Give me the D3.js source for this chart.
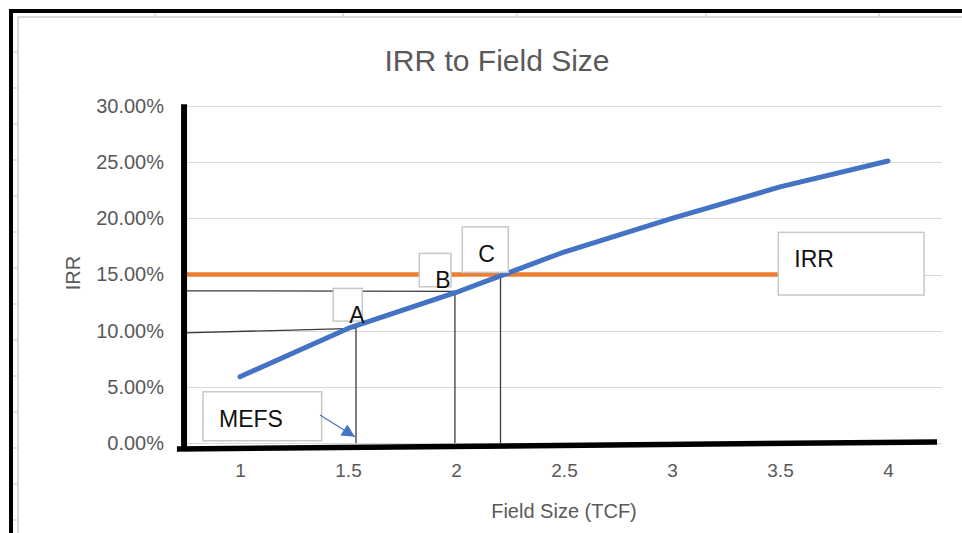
<!DOCTYPE html>
<html>
<head>
<meta charset="utf-8">
<script src="https://cdn.jsdelivr.net/npm/d3@7"></script>
<style>
  body { margin: 0; background: #fff; }
  svg { display: block; }
  text { font-family: "Liberation Sans", Arial, sans-serif; }
</style>
</head>
<body>
<svg id="chart" width="962" height="533"></svg>
<script>
// data
var fieldSizes = [1, 1.5, 2, 2.5, 3, 3.5, 4];          // TCF
var irrValues  = [5.9, 10.2, 13.4, 17.0, 20.0, 22.8, 25.1]; // %
var hurdleRate = 15;                                     // %
var yTicks     = [0, 5, 10, 15, 20, 25, 30];

// hand drawn markers (field size, irr %)
var dropPoints = [
  { name: 'A', x: 1.537, y: 10.2, left: 9.8 },
  { name: 'B', x: 1.995, y: 13.5, left: 13.55 },
  { name: 'C', x: 2.206, y: 14.8, left: null }
];
// text boxes, in data units
var labelBoxes = [
  { text: 'MEFS', x0: 0.829, x1: 1.378, y0: 4.56,  y1: 0.20 },
  { text: 'A',    x0: 1.432, x1: 1.566, y0: 13.76, y1: 10.85 },
  { text: 'B',    x0: 1.830, x1: 1.977, y0: 16.88, y1: 13.91 },
  { text: 'C',    x0: 2.029, x1: 2.242, y0: 19.24, y1: 15.19 },
  { text: 'IRR',  x0: 3.492, x1: 4.167, y0: 18.75, y1: 13.17 }
];
var arrowMefs = { x0: 1.370, y0: 2.49, x1: 1.532, y1: 0.55 };

var svg = d3.select('#chart');

// screenshot frame (sheet edge + cell grid)
var frame = svg.append('g').attr('class', 'frame');
frame.append('line').attr('x1', 18).attr('x2', 962).attr('y1', 17).attr('y2', 17)
     .attr('stroke', '#d9d9d9').attr('stroke-width', 2);
frame.append('line').attr('x1', 18).attr('x2', 18).attr('y1', 17).attr('y2', 533)
     .attr('stroke', '#d9d9d9').attr('stroke-width', 2);
[155, 343, 517, 706, 879].forEach(function(x) {
  frame.append('line').attr('x1', x).attr('x2', x).attr('y1', 13).attr('y2', 17)
       .attr('stroke', '#d9d9d9').attr('stroke-width', 1.5);
});
d3.range(52, 533, 36).forEach(function(y) {
  frame.append('line').attr('x1', 13).attr('x2', 18).attr('y1', y).attr('y2', y)
       .attr('stroke', '#d9d9d9').attr('stroke-width', 1.5);
});
frame.append('path').attr('d', 'M11,533 V11 H962')
     .attr('fill', 'none').attr('stroke', '#000').attr('stroke-width', 4);

// scales
var x = d3.scaleLinear().domain([0.75, 4.25]).range([186, 942]),
    y = d3.scaleLinear().domain([0, 30]).range([443, 106]);

// gridlines
svg.append('g').selectAll('line')
   .data(yTicks)
   .enter().append('line')
   .attr('x1', 183).attr('x2', x(4.25))
   .attr('y1', d => Math.round(y(d)) + 0.5).attr('y2', d => Math.round(y(d)) + 0.5)
   .attr('stroke', '#d9d9d9').attr('stroke-width', 1);

// axes (labels only)
var yAxis = svg.append('g')
   .attr('transform', 'translate(' + x(0.75) + ',0)')
   .call(d3.axisLeft(y).tickValues(yTicks).tickSize(0).tickPadding(22)
         .tickFormat(d => d.toFixed(2) + '%'));
yAxis.select('.domain').remove();
yAxis.selectAll('text').attr('font-size', 20).attr('fill', '#595959')
     .attr('font-family', '"Liberation Sans", Arial, sans-serif');

var xAxis = svg.append('g')
   .attr('transform', 'translate(0,' + y(0) + ')')
   .call(d3.axisBottom(x).tickValues(fieldSizes).tickSize(0).tickPadding(21)
         .tickFormat(d => d));
xAxis.select('.domain').remove();
xAxis.selectAll('text').attr('font-size', 19).attr('fill', '#595959')
     .attr('font-family', '"Liberation Sans", Arial, sans-serif');

// titles
svg.append('text').attr('x', 497).attr('y', 71).attr('text-anchor', 'middle')
   .attr('font-size', 30).attr('fill', '#595959').text('IRR to Field Size');
svg.append('text').attr('x', 564).attr('y', 518).attr('text-anchor', 'middle')
   .attr('font-size', 20).attr('fill', '#595959').text('Field Size (TCF)');
svg.append('text').attr('transform', 'translate(80,273) rotate(-90)')
   .attr('text-anchor', 'middle').attr('font-size', 20).attr('fill', '#595959').text('IRR');

// hurdle rate line
svg.append('line')
   .attr('x1', x(0.75)).attr('x2', x(4))
   .attr('y1', y(hurdleRate)).attr('y2', y(hurdleRate))
   .attr('stroke', '#ED7D31').attr('stroke-width', 4.3);

// drop lines
var drops = svg.append('g').attr('stroke', '#3a3a3a').attr('stroke-width', 1.3).attr('fill', 'none');
dropPoints.forEach(function(p) {
  drops.append('line').attr('x1', x(p.x)).attr('x2', x(p.x))
       .attr('y1', y(p.y)).attr('y2', y(0));
  if (p.left !== null) {
    drops.append('line').attr('x1', x(0.736)).attr('x2', x(p.x))
         .attr('y1', y(p.left)).attr('y2', y(p.y));
  }
});

// IRR curve
var line = d3.line().x((d, i) => x(fieldSizes[i])).y(d => y(d));
svg.append('path').datum(irrValues)
   .attr('d', line)
   .attr('fill', 'none').attr('stroke', '#4472C4')
   .attr('stroke-width', 5).attr('stroke-linecap', 'round').attr('stroke-linejoin', 'round');

// hand drawn thick axes
svg.append('line').attr('x1', x(0.741)).attr('x2', x(0.741))
   .attr('y1', y(30.16)).attr('y2', y(-0.6))
   .attr('stroke', '#000').attr('stroke-width', 6);
svg.append('line').attr('x1', x(0.708)).attr('x2', x(4.227))
   .attr('y1', y(-0.53)).attr('y2', y(0.09))
   .attr('stroke', '#000').attr('stroke-width', 5.5);

// text boxes
var boxes = svg.append('g').selectAll('g')
   .data(labelBoxes)
   .enter().append('g');
boxes.append('rect')
   .attr('x', d => x(d.x0)).attr('y', d => y(d.y0))
   .attr('width', d => x(d.x1) - x(d.x0)).attr('height', d => y(d.y1) - y(d.y0))
   .attr('fill', '#fff').attr('stroke', '#c8c8c8').attr('stroke-width', 1.5);
boxes.append('text')
   .attr('x', d => x(d.x0) + 16).attr('y', d => y(d.y0) + 35)
   .attr('font-size', 23).attr('fill', '#111')
   .text(d => d.text);

// MEFS arrow
svg.append('defs').append('marker')
   .attr('id', 'arrowhead').attr('viewBox', '0 0 10 10')
   .attr('refX', 10).attr('refY', 5)
   .attr('markerWidth', 15).attr('markerHeight', 13)
   .attr('markerUnits', 'userSpaceOnUse')
   .attr('orient', 'auto')
   .append('path').attr('d', 'M0,0 L10,5 L0,10 Z').attr('fill', '#4472C4');
svg.append('line')
   .attr('x1', x(arrowMefs.x0)).attr('y1', y(arrowMefs.y0))
   .attr('x2', x(arrowMefs.x1)).attr('y2', y(arrowMefs.y1))
   .attr('stroke', '#4472C4').attr('stroke-width', 1.2)
   .attr('marker-end', 'url(#arrowhead)');
</script>
</body>
</html>
